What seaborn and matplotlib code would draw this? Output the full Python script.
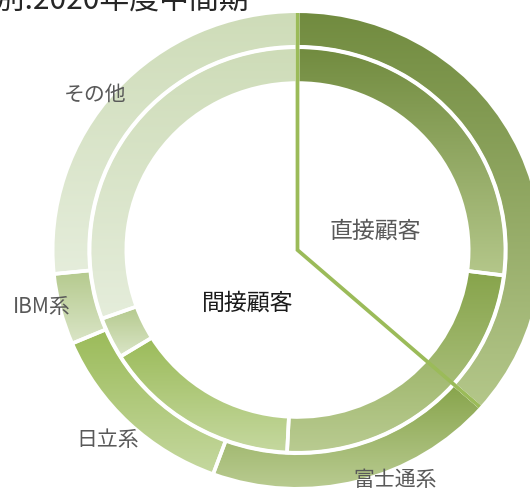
import numpy as np
import matplotlib
matplotlib.use('Agg')
import matplotlib.pyplot as plt
from matplotlib.patches import Wedge
import seaborn as sns

# ---------------- data ----------------
categories = ['直接顧客', '富士通系', '日立系', 'IBM系', 'その他']
outer_values = [36.5, 19.1, 13.0, 4.8, 26.6]   # outer ring
inner_values = [27.0, 23.8, 15.4, 3.3, 30.5]   # inner ring
outer_labels = ['', '富士通系', '日立系', 'IBM系', 'その他']
split_labels = ['直接顧客', '間接顧客']
split_values = [36.5, 63.5]
title_text = '顧客別:2020年度中間期'

# gradient colours (top -> bottom of each wedge)
top_colors = ['#718B3F', '#87A44B', '#9BBB59', '#B4C98C', '#CEDCB8']
bottom_colors = ['#B4C78A', '#B9CB91', '#C5D89F', '#DAE5C7', '#E5EDDB']

# ---------------- layout ----------------
sns.set_theme(style='white')
plt.rcParams['font.family'] = ['Noto Sans CJK JP', 'DejaVu Sans']

W, H = 530, 492
CX, CY = 297.5, 250.0     # pie centre in pixels
RX, RY = 243.0, 237.0     # pixel radius (x, y)


def px2data(px, py):
    return (px - CX) / RX, (CY - py) / RY


fig = plt.figure(figsize=(W / 100, H / 100), dpi=100)
ax = fig.add_axes([0, 0, 1, 1])
ax.axis('off')

EDGE_LW = 2.6


def draw_ring(values, r_out, width, z):
    total = float(sum(values))
    start = 0.0
    r_in = r_out - width
    for i, v in enumerate(values):
        a1 = start
        a2 = start + v / total * 360.0
        start = a2
        t1, t2 = 90.0 - a2, 90.0 - a1
        w = Wedge((0, 0), r_out, t1, t2, width=width,
                  facecolor='none', edgecolor='white', lw=EDGE_LW, zorder=z + 1)
        ax.add_patch(w)
        th = np.radians(np.linspace(t1, t2, 400))
        xs = np.concatenate([r_out * np.cos(th), r_in * np.cos(th)])
        ys = np.concatenate([r_out * np.sin(th), r_in * np.sin(th)])
        cmap = sns.blend_palette([top_colors[i], bottom_colors[i]], n_colors=256, as_cmap=True)
        grad = np.linspace(0, 1, 256).reshape(-1, 1)
        im = ax.imshow(grad, cmap=cmap, extent=[xs.min(), xs.max(), ys.min(), ys.max()],
                       origin='upper', aspect='auto', interpolation='bilinear', zorder=z)
        im.set_clip_path(w)


draw_ring(outer_values, 1.0075, 0.150, 2)
draw_ring(inner_values, 0.8555, 0.151, 2)

# direct / indirect split lines
split_angle = split_values[0] / sum(split_values) * 360.0
th = np.radians(split_angle)
ax.plot([0, 0, np.sin(th)], [1.0, 0, np.cos(th)], color='#9BBB59', lw=2.7,
        solid_joinstyle='miter', solid_capstyle='butt', zorder=10)

# labels
label_px = {'富士通系': (395, 480), '日立系': (108, 440), 'IBM系': (42, 307), 'その他': (95, 95)}
for lab in outer_labels:
    if lab:
        x, y = px2data(*label_px[lab])
        ax.text(x, y, lab, ha='center', va='center', fontsize=15, color='#595959', zorder=12)

x, y = px2data(375, 231)
ax.text(x, y, split_labels[0], ha='center', va='center', fontsize=16.5, color='#595959', zorder=12)
x, y = px2data(248, 303)
ax.text(x, y, split_labels[1], ha='center', va='center', fontsize=16.5, color='#1A1A1A', zorder=12)

# title (cut by the top edge, as in the reference)
x, y = px2data(-65, 9)
ax.text(x, y, title_text, ha='left', va='baseline', fontsize=21.5, color='#262626', zorder=12)

ax.set_xlim(-CX / RX, (W - CX) / RX)
ax.set_ylim(-(H - CY) / RY, CY / RY)
ax.set_aspect('auto')

fig.savefig('out.png', dpi=100, facecolor='white')
